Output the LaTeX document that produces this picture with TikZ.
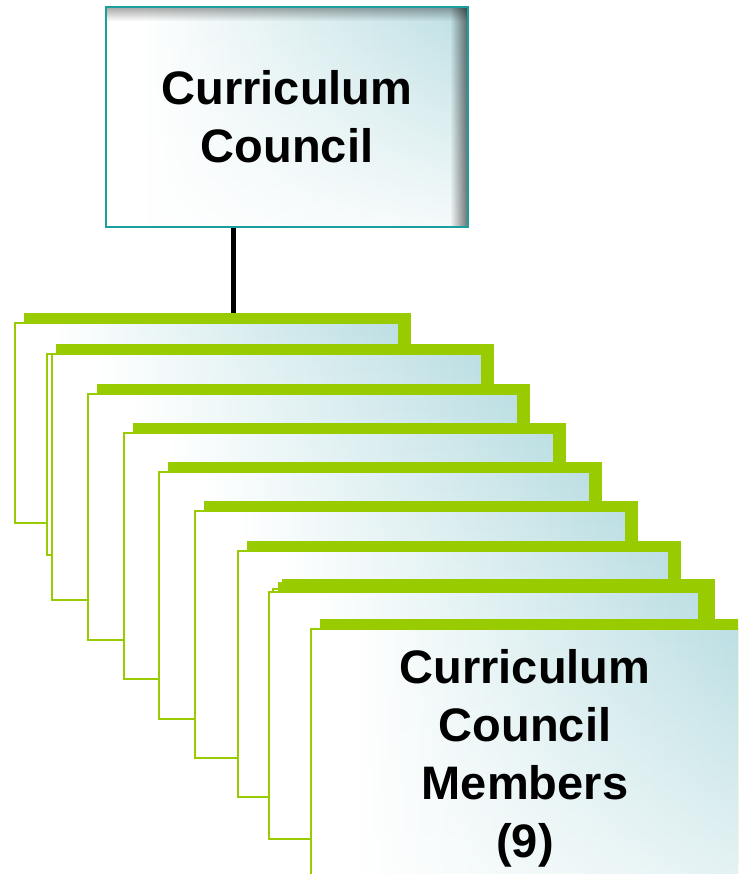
\documentclass[tikz,border=0pt]{standalone}
\usepackage{fontspec}
\setmainfont{Liberation Sans}
\usetikzlibrary{fadings}
\definecolor{cgreen}{RGB}{153,204,0}
\definecolor{tealL}{RGB}{188,223,227}
\definecolor{boxedge}{RGB}{26,158,158}
\pgfdeclarehorizontalshading{cardshade}{100bp}{color(0bp)=(white); color(25bp)=(white); color(30bp)=(white); color(75bp)=(tealL); color(100bp)=(tealL)}
\tikzfading[name=lowfade, top color=transparent!100, bottom color=transparent!40]
\tikzfading[name=boxlowfade, top color=transparent!100, bottom color=transparent!15]
\tikzfading[name=rightdark, left color=transparent!100, right color=transparent!0]
\tikzfading[name=topdark, top color=transparent!0, bottom color=transparent!100]
\begin{document}
\begin{tikzpicture}[x=1pt, y=-1pt,
  card/.style={draw=cgreen, line width=1.5pt, shade, shading=cardshade, anchor=north west, inner sep=0pt,
    path picture={\fill[white, path fading=lowfade] (path picture bounding box.south west) rectangle (path picture bounding box.north east);}},
  cardshadow/.style={fill=cgreen},
  topbox/.style={draw=boxedge, line width=2.5pt, shade, shading=cardshade, inner sep=0pt,
    minimum width=362pt, minimum height=220pt, align=center, font=\fontsize{47pt}{58pt}\selectfont\bfseries,
    path picture={
      \fill[white, path fading=boxlowfade] (path picture bounding box.south west) rectangle (path picture bounding box.north east);
      \fill[black, fill opacity=0.55, path fading=rightdark] ([xshift=-18pt]path picture bounding box.north east) rectangle (path picture bounding box.south east);
      \fill[black, fill opacity=0.35, path fading=topdark] (path picture bounding box.north west) rectangle ([yshift=-14pt]path picture bounding box.north east);
    }},
  cardtext/.style={align=center, inner sep=0pt, font=\fontsize{47pt}{58pt}\selectfont\bfseries},
  connector/.style={line width=5pt, black}
]
\useasboundingbox (0,0) rectangle (738,874);
\clip (0,0) rectangle (738,874);

\node[topbox] (council) at (287,117) {Curriculum\\Council};

\foreach \l/\t/\w/\h/\n in {14/322/384/200/c1, 46/353/384/201/c2a, 51/353/430/246/c2b,
  87/393/430/246/c3, 123/432/430/246/c4, 158/471/431/247/c5, 194/510/431/247/c6,
  237/550/431/246/c7, 272/588/430/246/c8b, 268/591/430/247/c8a, 310/628/430/246/c9}{
  \fill[cardshadow] ({\l+10},{\t-9}) rectangle ({\l+\w+13},{\t+\h-9});
  \node[card, minimum width=\w pt, minimum height=\h pt] (\n) at (\l,\t) {};
}

\node[cardtext] (members) at (525,758) {Curriculum\\Council\\Members\\(9)};

\coordinate (lx) at (233,0);
\coordinate (c1top) at ([yshift=9pt]c1.north);
\draw[connector] (council.south -| lx) -- (c1top -| lx);
\end{tikzpicture}
\end{document}
